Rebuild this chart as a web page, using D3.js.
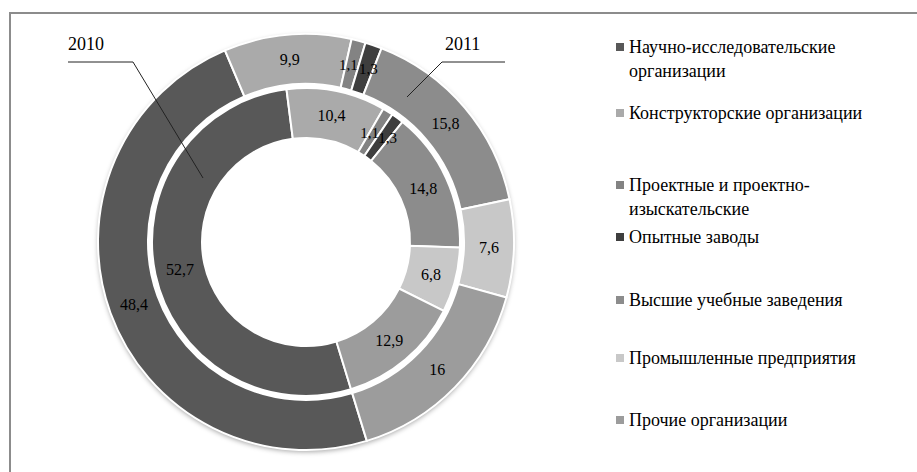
<!DOCTYPE html>
<html><head><meta charset="utf-8">
<script src="https://cdn.jsdelivr.net/npm/d3@7"></script>
<style>body{margin:0;background:#fff;overflow:hidden}</style></head>
<body>
<svg id="chart" width="917" height="472"></svg>
<script>
const categories = [
  "Научно-исследовательские организации",
  "Конструкторские организации",
  "Проектные и проектно-изыскательские",
  "Опытные заводы",
  "Высшие учебные заведения",
  "Промышленные предприятия",
  "Прочие организации"
];
const legendLines = [
  ["Научно-исследовательские", "организации"],
  ["Конструкторские организации"],
  ["Проектные и проектно-", "изыскательские"],
  ["Опытные заводы"],
  ["Высшие учебные заведения"],
  ["Промышленные предприятия"],
  ["Прочие организации"]
];
const years = ["2010", "2011"];
const values2010 = [52.7, 10.4, 1.1, 1.3, 14.8, 6.8, 12.9];
const values2011 = [48.4, 9.9, 1.1, 1.3, 15.8, 7.6, 16];
const colors = ["#585858", "#aaaaaa", "#838383", "#3e3e3e", "#8c8c8c", "#c8c8c8", "#9c9c9c"];

const FONT = '"Liberation Serif"';
const svg = d3.select("#chart");

// frame
svg.append("path").attr("d", "M10,472 L10,13 L917,13")
  .attr("fill", "none").attr("stroke", "#8c8c8c").attr("stroke-width", 2);

const defs = svg.append("defs");
const f = defs.append("filter").attr("id", "sh").attr("x", "-20%").attr("y", "-20%").attr("width", "140%").attr("height", "140%");
f.append("feDropShadow").attr("dx", 0).attr("dy", 2).attr("stdDeviation", 2.5).attr("flood-color", "#000").attr("flood-opacity", 0.35);

const cx = 306, cy = 242;
const R = 208, hole = 104, gap = 4;
const mid = (R + hole) / 2;
const start = 163 * Math.PI / 180;
const pie = d3.pie().sort(null).value(d => d).startAngle(start).endAngle(start + 2 * Math.PI);
const color = d3.scaleOrdinal().domain(d3.range(categories.length)).range(colors);

const g = svg.append("g").attr("transform", `translate(${cx},${cy})`);
const rings = [
  {year: years[0], values: values2010, r0: hole, r1: mid - gap / 2, nudge: [0, 0, -5, 5, 0, 0, 0]},
  {year: years[1], values: values2011, r0: mid + gap / 2, r1: R, nudge: [0, 0, -4, 3, 0, 0, 0]}
];
g.append("circle").attr("r", R).attr("fill", "#fff").attr("filter", "url(#sh)");
g.append("circle").attr("r", hole).attr("fill", "#fff");

const fmt = v => String(v).replace(".", ",");
rings.forEach(ring => {
  const arc = d3.arc().innerRadius(ring.r0).outerRadius(ring.r1);
  const arcs = pie(ring.values);
  g.append("g").selectAll("path").data(arcs).join("path")
    .attr("d", arc).attr("fill", (d, i) => color(i))
    .attr("stroke", "#fff").attr("stroke-width", 2);
  g.append("g").selectAll("text").data(arcs).join("text")
    .attr("transform", (d, i) => { const c = arc.centroid(d); return `translate(${c[0] + ring.nudge[i]},${c[1]})`; })
    .attr("text-anchor", "middle").attr("dy", "0.35em")
    .style("font-family", FONT)
    .style("font-size", (d, i) => ((i === 2 || i === 3) ? 15 : 16) + "px").attr("fill", "#000")
    .text(d => fmt(d.data));
});

// year callouts
[[years[0], 68], [years[1], 445]].forEach(([t, x]) => {
  svg.append("text").attr("x", x).attr("y", 50).style("font-family", FONT).style("font-size", "18px").attr("fill", "#000").text(t);
});
svg.append("path").attr("d", "M68,62 L133,62 L203,178").attr("fill", "none").attr("stroke", "#222").attr("stroke-width", 1);
svg.append("path").attr("d", "M505,62 L442,62 L407,97").attr("fill", "none").attr("stroke", "#222").attr("stroke-width", 1);

// legend
const legendY = [47, 113, 185, 237, 300, 358, 420];
const lg = svg.append("g");
legendLines.forEach((lines, i) => {
  const y = legendY[i];
  lg.append("rect").attr("x", 616).attr("y", y - 4).attr("width", 8).attr("height", 8).attr("fill", color(i));
  lines.forEach((t, j) => {
    lg.append("text").attr("x", 629).attr("y", y + 6 + j * 24)
      .style("font-family", FONT).style("font-size", "18px").attr("fill", "#000").text(t);
  });
});
</script>
</body></html>
